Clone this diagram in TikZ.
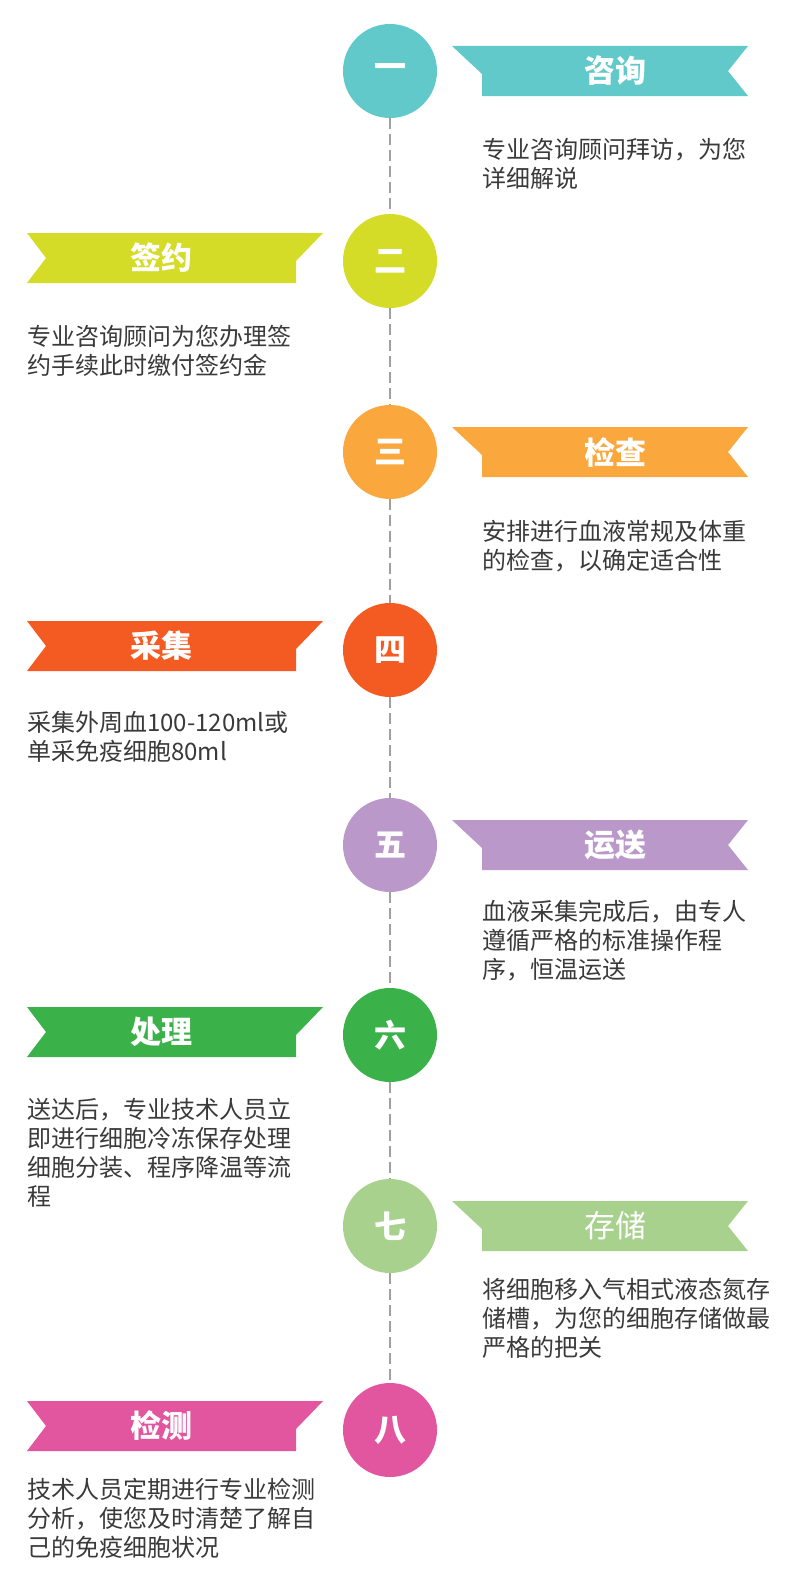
\documentclass[tikz,border=0pt]{standalone}
\usepackage{fontspec}
\newfontfamily\cjk{Noto Sans CJK SC}
\definecolor{cA}{RGB}{98,201,202}
\definecolor{cB}{RGB}{212,220,39}
\definecolor{cC}{RGB}{250,168,61}
\definecolor{cD}{RGB}{244,91,34}
\definecolor{cE}{RGB}{187,152,202}
\definecolor{cF}{RGB}{59,177,74}
\definecolor{cG}{RGB}{168,209,142}
\definecolor{cH}{RGB}{226,85,159}
\definecolor{bodytext}{RGB}{58,58,58}
\definecolor{dashgray}{RGB}{160,160,160}
\newcommand\ribR[2]{\fill[#2] (452,{#1-25}) -- (748,{#1-25}) -- (728,#1) -- (748,{#1+25}) -- (482,{#1+25}) -- (482,{#1+3}) -- cycle;}
\newcommand\ribL[2]{\fill[#2] (27,{#1-25}) -- (323,{#1-25}) -- (296,{#1+3}) -- (296,{#1+25}) -- (27,{#1+25}) -- (46,#1) -- cycle;}
\begin{document}
\begin{tikzpicture}[x=1pt,y=-1pt,
  circ/.style={circle,minimum size=94pt,inner sep=0pt,text=white,font=\cjk\bfseries\fontsize{32}{32}\selectfont},
  ttl/.style={inner sep=0pt,text=white,font=\cjk\bfseries\fontsize{31}{31}\selectfont},
  ttlreg/.style={inner sep=0pt,text=white,font=\cjk\fontsize{31}{31}\selectfont},
  body/.style={anchor=north west,inner sep=0pt,align=left,text=bodytext,font=\cjk\fontsize{24}{29}\selectfont},
  dashline/.style={dashgray,line width=2pt,dash pattern=on 11pt off 5pt}]
\fill[white] (0,0) rectangle (797,1587);
\useasboundingbox (0,0) rectangle (797,1587);
% ribbons
\ribR{71}{cA}
\ribL{258}{cB}
\ribR{452}{cC}
\ribL{646}{cD}
\ribR{845}{cE}
\ribL{1032}{cF}
\ribR{1226}{cG}
\ribL{1426}{cH}
% circles
\node[circ,fill=cA] (c1) at (390,71) {一};
\node[circ,fill=cB] (c2) at (390,261) {二};
\node[circ,fill=cC] (c3) at (390,452) {三};
\node[circ,fill=cD] (c4) at (390,650) {四};
\node[circ,fill=cE] (c5) at (390,845) {五};
\node[circ,fill=cF] (c6) at (390,1035) {六};
\node[circ,fill=cG] (c7) at (390,1226) {七};
\node[circ,fill=cH] (c8) at (390,1430) {八};
% connectors
\draw[dashline] (c1) -- (c2);
\draw[dashline] (c2) -- (c3);
\draw[dashline] (c3) -- (c4);
\draw[dashline] (c4) -- (c5);
\draw[dashline] (c5) -- (c6);
\draw[dashline] (c6) -- (c7);
\draw[dashline] (c7) -- (c8);
% titles
\node[ttl] (t1) at (615,71) {咨询};
\node[ttl] (t2) at (161,258) {签约};
\node[ttl] (t3) at (615,452) {检查};
\node[ttl] (t4) at (161,646) {采集};
\node[ttl] (t5) at (615,845) {运送};
\node[ttl] (t6) at (161,1032) {处理};
\node[ttlreg] (t7) at (615,1226) {存储};
\node[ttl] (t8) at (161,1426) {检测};
% body texts
\node[body] (b1) at (482,138) {专业咨询顾问拜访，为您\\详细解说};
\node[body] (b2) at (27,325) {专业咨询顾问为您办理签\\约手续此时缴付签约金};
\node[body] (b3) at (482,520) {安排进行血液常规及体重\\的检查，以确定适合性};
\node[body] (b4) at (27,711) {采集外周血100-120ml或\\单采免疫细胞80ml};
\node[body] (b5) at (482,900) {血液采集完成后，由专人\\遵循严格的标准操作程\\序，恒温运送};
\node[body] (b6) at (27,1098) {送达后，专业技术人员立\\即进行细胞冷冻保存处理\\细胞分装、程序降温等流\\程};
\node[body] (b7) at (482,1278) {将细胞移入气相式液态氮存\\储槽，为您的细胞存储做最\\严格的把关};
\node[body] (b8) at (27,1478) {技术人员定期进行专业检测\\分析，使您及时清楚了解自\\己的免疫细胞状况};
\end{tikzpicture}
\end{document}
